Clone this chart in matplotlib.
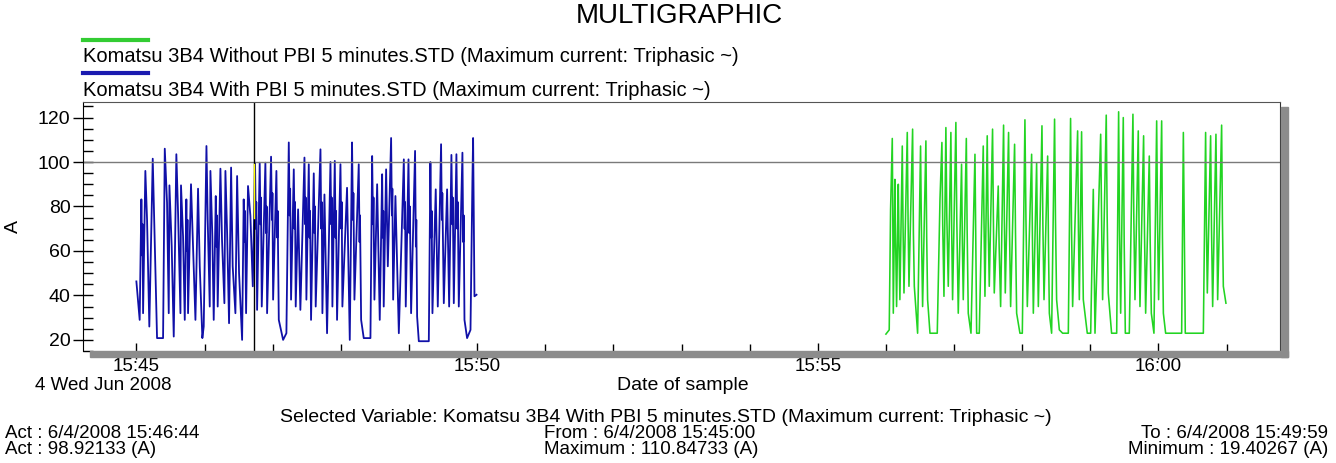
import matplotlib
matplotlib.use("Agg")
import matplotlib.pyplot as plt
import matplotlib.dates as mdates
from matplotlib.patches import Rectangle
import pandas as pd

plt.rcParams['font.family'] = ['Liberation Sans', 'DejaVu Sans']

# --- data ---
# (seconds after 15:45:00, current in A)
with_pbi = [(0, 46.3), (2.9, 29.0), (4.4, 83.2), (5.1, 58), (5.5, 72), (5.9, 32.0), (7.9, 96.0), (9.4, 74.2),
            (11.4, 26.0), (14.4, 101.5), (15.9, 69.6), (18.2, 20.8), (23.5, 20.8), (25.0, 106.0),
            (27.0, 81.7), (28.5, 32.0), (29.1, 89.5), (31.1, 62.1), (32.9, 21.5), (35.2, 103.5),
            (36.7, 77.2), (38.8, 32.0), (39.3, 89.5), (41.1, 66.6), (42.6, 29.0), (44.0, 83.2),
            (44.6, 60), (45.0, 74), (45.5, 32.0), (48.1, 90.0), (49.9, 62.1), (52.0, 29.0), (54.3, 88.0),
            (55.8, 53.1), (58.1, 20.8), (59.3, 26.0), (61.7, 107.2), (62.8, 74.2), (64.6, 35.0),
            (65.2, 96.0), (66.9, 66.6), (68.1, 29.0), (69.9, 84.7), (70.5, 62), (70.9, 76), (71.6, 35.0),
            (74.0, 97.0), (75.4, 65.1), (77.5, 36.5), (78.4, 96.0), (79.9, 68.1), (81.6, 27.5),
            (83.4, 97.5), (84.8, 53.1), (87.2, 32.0), (88.7, 93.7), (90.4, 50.1), (93.1, 20.0),
            (94.5, 83.2), (95.2, 64), (95.6, 78), (96.6, 32.0), (98.3, 89.2), (100.4, 75.7), (102.5, 44.1),
            (104.5, 99.7), (105.2, 70), (105.6, 82), (106.3, 33.5), (108.6, 99.7), (109.3, 72),
            (109.7, 84), (110.4, 35.0), (113.6, 99.7), (114.3, 68), (114.7, 80), (115.1, 32.0),
            (118.6, 102.4), (119.4, 74), (119.8, 86), (120.4, 38.1), (123.3, 96.0), (124.0, 66),
            (124.4, 78), (125.4, 29.0), (129.2, 20.0), (132.1, 23.0), (134.2, 108.8),
            (135.0, 76), (135.4, 88), (136.2, 38.1), (138.6, 96.7), (139.3, 70), (139.7, 82),
            (140.3, 35.0), (142.4, 78.7), (144.4, 33.5), (148.0, 102.0), (148.7, 72), (149.1, 84),
            (149.7, 38.1), (151.8, 99.0), (152.5, 66), (152.9, 78), (153.8, 29.0), (156.2, 94.9),
            (156.9, 68), (157.3, 80), (157.9, 35.0), (162.1, 105.7), (162.8, 70), (163.2, 82),
            (163.8, 32.0), (165.6, 85.4), (167.9, 23.0), (170.9, 100.0), (171.6, 72), (172.0, 84),
            (172.6, 35.0), (174.7, 100.5), (175.4, 66), (175.8, 78), (176.7, 29.0), (179.7, 99.0),
            (180.4, 70), (180.8, 82), (181.4, 35.0), (185.5, 88.4), (187.9, 20.0), (189.9, 108.8),
            (190.7, 74), (191.1, 86), (192.0, 38.1), (195.8, 99.0), (196.5, 64), (196.9, 76),
            (197.9, 29.0), (200.2, 20.8), (206.1, 20.8), (207.6, 102.7), (208.4, 72), (208.8, 84),
            (209.6, 38.1), (212.0, 90.0), (214.3, 29.0), (216.4, 94.5), (217.0, 66), (217.4, 78),
            (217.8, 35.0), (219.9, 96.7), (221.4, 53.1), (224.3, 110.8), (225.0, 76), (225.4, 88),
            (226.1, 38.1), (228.1, 84.7), (231.1, 23.0), (235.5, 101.2), (236.2, 70), (236.6, 82),
            (237.2, 35.0), (239.6, 101.2), (240.4, 68), (240.8, 80), (241.9, 32.0), (245.4, 105.0),
            (246.1, 62), (246.5, 74), (247.2, 30.5), (248.7, 19.4), (257.5, 19.4), (258.9, 100.0),
            (259.6, 66), (260.0, 78), (260.7, 32.0), (263.6, 87.7), (265.4, 35.0), (268.3, 108.0),
            (269.0, 74), (269.4, 86), (270.7, 36.5), (273.6, 87.7), (275.4, 35.0), (277.4, 103.2),
            (278.2, 72), (278.6, 84), (279.5, 36.5), (281.8, 103.5), (282.6, 70), (283.0, 82),
            (283.9, 35.0), (287.1, 104.2), (287.8, 64), (288.2, 76), (288.9, 29.0), (291.2, 20.8),
            (294.2, 24.5), (295.9, 92.2), (296.5, 110.8), (297.7, 39.6), (299.5, 40.3)]

# (seconds after 15:56:00, current in A)
without_pbi = [(0, 22.6), (2.9, 24.5), (4.1, 78.7), (5.6, 110.6), (6.0, 80), (6.5, 32.0), (7.9, 92.2),
               (8.5, 66), (9.4, 35.0), (10.9, 90.0), (11.5, 64), (12.3, 38.1), (14.4, 107.2), (15.1, 70),
               (15.9, 41.1), (18.8, 113.3), (19.5, 74), (20.3, 44.1), (23.5, 114.8), (24.2, 68),
               (25.0, 44.1), (27.9, 23.0), (30.5, 107.2), (31.2, 72), (32.3, 35.0), (35.2, 109.5),
               (35.9, 66), (36.7, 38.1), (38.8, 23.0), (45.2, 23.0), (47.6, 83.2), (49.3, 108.8),
               (50.0, 72), (51.1, 39.6), (52.8, 115.5), (53.6, 76), (54.9, 44.1), (57.2, 113.3),
               (57.9, 70), (58.7, 38.1), (61.6, 117.8), (62.4, 74), (63.7, 32.0), (66.6, 99.0),
               (67.3, 64), (68.1, 38.1), (70.8, 110.6), (71.5, 70), (72.5, 32.0), (74.9, 23.0),
               (78.4, 103.5), (79.9, 23.0), (82.2, 23.0), (85.7, 107.2), (86.4, 72), (87.2, 39.6),
               (89.2, 111.8), (90.0, 74), (91.0, 44.1), (93.9, 114.8), (94.6, 76), (95.4, 41.1),
               (98.9, 89.2), (99.7, 62), (101.0, 35.0), (103.6, 116.6), (104.3, 74), (105.1, 41.1),
               (108.0, 113.3), (108.8, 70), (109.8, 35.0), (113.3, 108.0), (114.1, 68), (115.1, 32.0),
               (118.0, 23.0), (120.1, 23.0), (122.4, 119.0), (123.3, 74), (124.5, 35.0), (128.3, 103.5),
               (129.0, 66), (129.8, 32.0), (132.7, 99.7), (133.4, 64), (134.2, 35.0), (137.4, 116.3),
               (138.2, 72), (139.2, 38.1), (142.4, 102.7), (143.1, 64), (143.9, 32.0), (145.9, 23.0),
               (148.5, 119.3), (149.3, 74), (150.3, 38.1), (152.7, 24.5), (155.6, 23.0), (160.6, 23.0),
               (162.6, 119.6), (163.4, 72), (164.4, 35.0), (168.8, 114.0), (169.5, 70), (170.3, 38.1),
               (172.3, 113.6), (173.0, 72), (173.8, 38.1), (177.3, 23.0), (180.3, 23.0), (182.6, 87.7),
               (184.1, 23.0), (189.1, 112.5), (189.9, 74), (190.8, 38.1), (194.0, 121.1), (194.8, 76),
               (195.8, 41.1), (198.7, 23.0), (203.2, 23.0), (204.9, 122.6), (205.7, 70), (206.7, 32.0),
               (209.0, 120.0), (209.8, 64), (210.8, 23.0), (214.3, 23.0), (217.5, 121.5), (218.3, 74),
               (219.3, 38.1), (222.2, 114.0), (222.9, 70), (223.7, 35.0), (226.9, 111.8), (227.7, 68),
               (228.7, 32.0), (231.9, 102.7), (232.7, 64), (233.7, 32.0), (236.0, 23.0), (238.4, 118.5),
               (239.2, 72), (240.1, 38.1), (242.8, 118.5), (243.5, 66), (244.3, 32.0), (246.3, 23.0),
               (260.4, 23.0), (261.9, 113.3), (263.6, 23.0), (279.5, 23.0), (281.5, 113.3), (282.2, 72),
               (283.0, 41.1), (285.9, 111.8), (286.7, 70), (287.7, 35.0), (290.6, 112.5), (291.4, 72),
               (292.1, 38.1), (295.6, 116.6), (296.3, 74), (297.1, 44.1), (299.4, 36.5)]

label_without = "Komatsu 3B4 Without PBI 5 minutes.STD (Maximum current: Triphasic ~)"
label_with = "Komatsu 3B4 With PBI 5 minutes.STD (Maximum current: Triphasic ~)"

with_start = pd.Timestamp("2008-06-04 15:45:00")
without_start = pd.Timestamp("2008-06-04 15:56:00")
cursor_time = pd.Timestamp("2008-06-04 15:46:44")
act_value = 98.92133
x_from = pd.Timestamp("2008-06-04 15:44:13")
x_to = pd.Timestamp("2008-06-04 16:01:47")

blue = "#1010a8"
green = "#22d422"

fig = plt.figure(figsize=(13.36, 4.63), dpi=100)
W, H = 1336, 463
ax = fig.add_axes([83 / W, 1 - 351 / H, (1280 - 83) / W, (351 - 102) / H])

wt, wa = zip(*with_pbi)
nt, na = zip(*without_pbi)
ax.plot(with_start + pd.to_timedelta(list(wt), unit="s"), wa, color=blue, lw=1.3)
ax.plot(without_start + pd.to_timedelta(list(nt), unit="s"), na, color=green, lw=1.15)

ax.axhline(100, color="#7a7a7a", lw=1)
ax.axvline(cursor_time, color="black", lw=1)
ax.plot([cursor_time, cursor_time], [75, act_value], color="yellow", lw=1)

ax.set_xlim(x_from, x_to)
ax.set_ylim(15, 127)

ax.xaxis.set_major_locator(mdates.MinuteLocator(byminute=range(0, 60, 5)))
ax.xaxis.set_minor_locator(mdates.MinuteLocator())
ax.xaxis.set_major_formatter(mdates.DateFormatter("%H:%M"))
ax.set_yticks([20, 40, 60, 80, 100, 120])
ax.yaxis.set_minor_locator(plt.MultipleLocator(5))

ax.tick_params(axis="y", which="major", direction="inout", length=14, width=1, labelsize=14, pad=2)
ax.tick_params(axis="y", which="minor", direction="in", length=7, width=1)
ax.tick_params(axis="x", which="major", direction="inout", length=12, width=1, labelsize=13.5, pad=-1)
ax.tick_params(axis="x", which="minor", direction="in", length=5, width=1)

ax.spines["bottom"].set_visible(False)
ax.spines["top"].set_color("#555555")
ax.spines["right"].set_color("#333333")
ax.spines["left"].set_color("black")
ax.set_ylabel("A", fontsize=14)
ax.yaxis.set_label_coords((22 - 83) / (1280 - 83), 0.5)

# grey shadow under and right of the plot frame
fig.patches.append(Rectangle((90 / W, 1 - 357 / H), (1288 - 90) / W, 6 / H,
                             transform=fig.transFigure, color="#8c8c8c", zorder=0))
fig.patches.append(Rectangle((1281 / W, 1 - 357 / H), 7 / W, (357 - 107) / H,
                             transform=fig.transFigure, color="#8c8c8c", zorder=0))

# title and legend
fig.text(679 / W, 1 - 16 / H, "MULTIGRAPHIC", ha="center", va="center", fontsize=20)
fig.add_artist(plt.Line2D([83 / W, 148 / W], [1 - 40 / H, 1 - 40 / H], color="#33cc33", lw=3))
fig.text(83 / W, 1 - 57 / H, label_without, ha="left", va="center", fontsize=14.5)
fig.add_artist(plt.Line2D([83 / W, 148 / W], [1 - 73 / H, 1 - 73 / H], color="#1a1ab0", lw=3))
fig.text(83 / W, 1 - 90 / H, label_with, ha="left", va="center", fontsize=14.5)

# footer
fig.text(103 / W, 1 - 386 / H, "4 Wed Jun 2008", ha="center", va="center", fontsize=13.5)
fig.text(683 / W, 1 - 386 / H, "Date of sample", ha="center", va="center", fontsize=14)
fig.text(666 / W, 1 - 418 / H,
         "Selected Variable: Komatsu 3B4 With PBI 5 minutes.STD (Maximum current: Triphasic ~)",
         ha="center", va="center", fontsize=14)
fig.text(5 / W, 1 - 434 / H, "Act : 6/4/2008 15:46:44", ha="left", va="center", fontsize=13.5)
fig.text(5 / W, 1 - 450 / H, "Act : 98.92133 (A)", ha="left", va="center", fontsize=13.5)
fig.text(544 / W, 1 - 434 / H, "From : 6/4/2008 15:45:00", ha="left", va="center", fontsize=13.5)
fig.text(544 / W, 1 - 450 / H, "Maximum : 110.84733 (A)", ha="left", va="center", fontsize=13.5)
fig.text(1328 / W, 1 - 434 / H, "To : 6/4/2008 15:49:59", ha="right", va="center", fontsize=13.5)
fig.text(1328 / W, 1 - 450 / H, "Minimum : 19.40267 (A)", ha="right", va="center", fontsize=13.5)

fig.savefig("out.png", dpi=100)
